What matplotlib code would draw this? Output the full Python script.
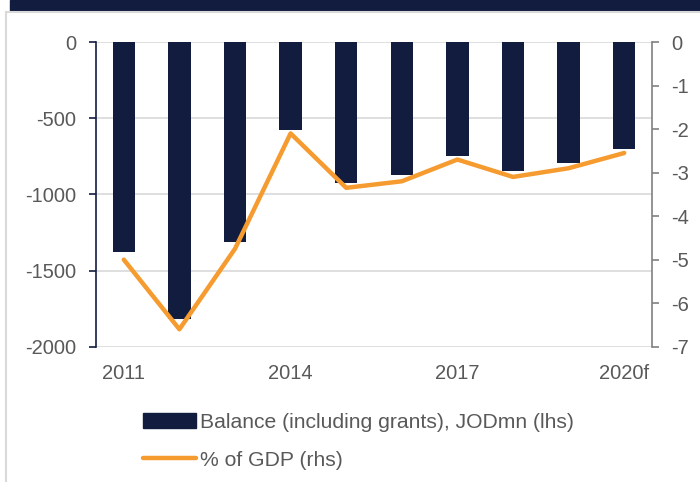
import matplotlib
matplotlib.use('Agg')
import matplotlib.pyplot as plt
from matplotlib.patches import Rectangle
from matplotlib.lines import Line2D
import numpy as np

plt.rcParams['font.family'] = ['Liberation Sans', 'DejaVu Sans']
plt.rcParams['axes.unicode_minus'] = False

years = ['2011', '2012', '2013', '2014', '2015', '2016', '2017', '2018', '2019', '2020f']
balance = [-1380, -1820, -1315, -580, -925, -875, -745, -845, -795, -705]
pct_gdp = [-5.0, -6.6, -4.75, -2.1, -3.35, -3.2, -2.7, -3.1, -2.9, -2.55]
shown_years = ['2011', '2014', '2017', '2020f']

navy = '#121c3f'
orange = '#f59b30'
grey_txt = '#595959'
grid_c = '#d9d9d9'
fs = 14.5

fig = plt.figure(figsize=(7, 4.82), dpi=100)

# frame decorations
fig.patches.append(Rectangle((10 / 700, 1 - 11 / 482), 1, 11 / 482,
                             transform=fig.transFigure, color=navy, zorder=0))
fig.lines.append(Line2D([6 / 700, 1], [1 - 12 / 482, 1 - 12 / 482],
                        transform=fig.transFigure, color=grid_c, lw=1.5))
fig.lines.append(Line2D([6 / 700, 6 / 700], [0, 1 - 12 / 482],
                        transform=fig.transFigure, color=grid_c, lw=1.5))

ax = fig.add_axes([96 / 700, 1 - 346.7 / 482, (652 - 96) / 700, (346.7 - 42) / 482])
x = np.arange(len(years))
ax.bar(x, balance, width=0.4, color=navy, zorder=2)
ax.set_ylim(-2000, 0)
ax.set_xlim(-0.5, len(years) - 0.5)
ax.set_yticks([0, -500, -1000, -1500, -2000])
ax.grid(axis='y', color=grid_c, lw=1.2, zorder=0)
ax.set_axisbelow(True)
ax.set_xticks([years.index(y) for y in shown_years])
ax.set_xticklabels(shown_years)
ax.tick_params(axis='x', length=0, pad=12.5, labelsize=fs, labelcolor=grey_txt)
ax.tick_params(axis='y', length=5, width=1.2, color=navy, pad=9, labelsize=fs, labelcolor=grey_txt)
for s in ['top', 'right', 'bottom']:
    ax.spines[s].set_visible(False)
ax.spines['left'].set_color(navy)
ax.spines['left'].set_linewidth(1.2)

ax2 = ax.twinx()
ax2.plot(x, pct_gdp, color=orange, lw=3.2, solid_capstyle='round', zorder=3)
ax2.set_ylim(-7, 0)
ax2.set_yticks(range(0, -8, -1))
ax2.tick_params(axis='y', length=5, width=1.2, color='#808080', pad=9, labelsize=fs, labelcolor=grey_txt)
for s in ['top', 'left', 'bottom']:
    ax2.spines[s].set_visible(False)
ax2.spines['right'].set_color('#808080')
ax2.spines['right'].set_linewidth(1.2)

handles = [Rectangle((0, 0), 1, 1, color=navy),
           Line2D([], [], color=orange, lw=3.2, solid_capstyle='round')]
labels = ['Balance (including grants), JODmn (lhs)', '% of GDP (rhs)']
leg = fig.legend(handles, labels, loc='center left', bbox_to_anchor=(143 / 700, 1 - 441 / 482),
                 frameon=False, fontsize=15.2, handlelength=2.5, handletextpad=0.2,
                 labelspacing=0.9, borderpad=0, borderaxespad=0)
for t in leg.get_texts():
    t.set_color(grey_txt)

fig.savefig('out.png', dpi=100)
